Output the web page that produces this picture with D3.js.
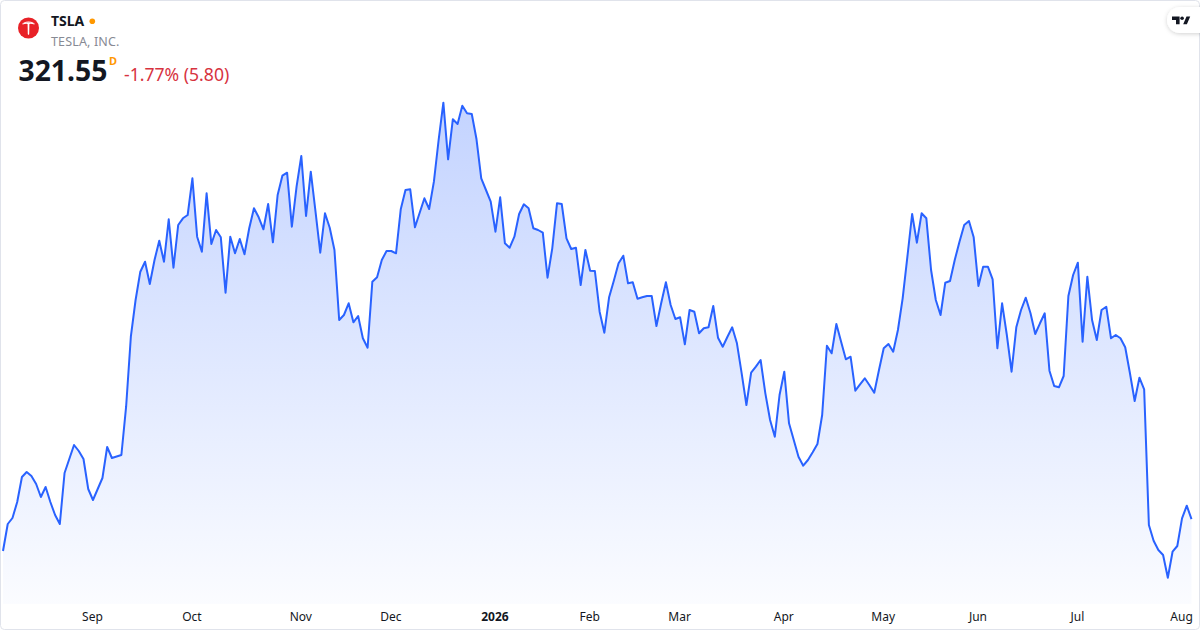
<!DOCTYPE html>
<html>
<head>
<meta charset="UTF-8">
<title>TSLA</title>
<script src="https://cdn.jsdelivr.net/npm/d3@7"></script>
<style>
  html, body { margin: 0; padding: 0; background: #fff; }
  svg { display: block; font-family: "Noto Sans", "Open Sans", sans-serif; }
</style>
</head>
<body>
<div id="chart"></div>
<script>
// daily closes, one per trading day (Aug 2025 -> Aug 2026)
var closes = [
  308.80, 319.60, 322.00, 328.40, 338.40, 340.40, 338.80, 335.60, 330.40, 334.40,
  328.40, 323.20, 319.60, 340.00, 345.60, 351.20, 348.80, 345.60, 333.60, 329.20,
  333.60, 338.00, 350.40, 346.00, 346.60, 347.20, 366.52, 394.52, 409.20, 420.52,
  424.52, 415.60, 425.20, 432.92, 424.52, 441.48, 422.12, 439.20, 441.88, 443.20,
  457.88, 434.52, 428.52, 451.88, 431.60, 437.20, 434.28, 412.12, 434.52, 427.88,
  433.60, 427.48, 437.88, 445.88, 442.28, 437.48, 447.60, 432.28, 451.20, 458.92,
  460.12, 438.52, 454.52, 466.80, 442.80, 460.52, 444.52, 428.12, 443.88, 438.12,
  429.20, 401.20, 403.20, 407.88, 400.28, 402.80, 393.88, 390.12, 416.52, 418.28,
  425.20, 428.80, 428.80, 427.88, 445.48, 453.20, 453.48, 438.28, 444.12, 449.88,
  445.60, 456.52, 473.20, 488.12, 465.48, 481.48, 479.60, 486.92, 483.88, 483.60,
  473.48, 457.88, 453.20, 448.52, 436.52, 450.28, 431.88, 430.12, 434.52, 443.60,
  447.48, 445.88, 437.88, 437.20, 436.12, 418.12, 429.88, 447.88, 447.60, 433.88,
  429.60, 430.12, 415.20, 429.20, 420.92, 420.80, 404.52, 396.12, 410.28, 416.92,
  423.88, 426.92, 415.88, 416.28, 409.72, 410.28, 410.80, 410.80, 398.80, 407.88,
  416.28, 407.20, 401.60, 402.28, 391.48, 405.20, 404.52, 395.88, 397.88, 398.28,
  406.80, 394.12, 390.52, 394.52, 398.28, 391.88, 379.88, 367.20, 380.12, 382.52,
  385.20, 371.88, 361.20, 354.52, 371.20, 380.52, 359.88, 353.20, 346.52, 342.92,
  345.20, 348.28, 351.60, 363.20, 390.92, 387.88, 399.60, 392.52, 385.48, 386.52,
  372.92, 375.48, 377.88, 375.08, 372.12, 381.20, 389.88, 391.60, 388.52, 397.20,
  409.88, 426.52, 443.60, 432.12, 443.88, 441.88, 421.20, 409.20, 403.20, 416.12,
  416.80, 425.20, 432.52, 439.20, 440.80, 434.28, 414.80, 422.52, 422.52, 417.48,
  389.88, 407.88, 395.20, 380.52, 398.28, 405.20, 410.12, 403.88, 395.60, 399.88,
  403.88, 380.92, 374.80, 374.28, 378.80, 410.80, 419.20, 424.12, 392.52, 418.52,
  401.20, 393.20, 405.20, 406.52, 393.88, 395.20, 393.88, 390.28, 379.88, 368.80,
  378.12, 373.48, 319.20, 312.92, 309.20, 307.20, 298.12, 308.52, 310.80, 321.88,
  326.92, 321.55
];

// first trading day of each month (index into closes) and its label
var monthStart = [19, 40, 63, 82, 104, 124, 143, 165, 186, 206, 227, 249];
var monthLabels = ["Sep", "Oct", "Nov", "Dec", "2026", "Feb", "Mar", "Apr", "May", "Jun", "Jul", "Aug"];

var W = 1200, H = 630;

var svg = d3.select("#chart").append("svg")
    .attr("width", W)
    .attr("height", H);

var defs = svg.append("defs");
var grad = defs.append("linearGradient")
    .attr("id", "areaFill")
    .attr("gradientUnits", "userSpaceOnUse")
    .attr("x1", 0).attr("y1", 100)
    .attr("x2", 0).attr("y2", 604);
grad.append("stop").attr("offset", 0).attr("stop-color", "#2962ff").attr("stop-opacity", 0.28);
grad.append("stop").attr("offset", 1).attr("stop-color", "#2962ff").attr("stop-opacity", 0.02);

var shadow = defs.append("filter").attr("id", "pillShadow")
    .attr("x", "-50%").attr("y", "-50%").attr("width", "200%").attr("height", "200%");
shadow.append("feDropShadow")
    .attr("dx", 0).attr("dy", 1).attr("stdDeviation", 2)
    .attr("flood-color", "#000").attr("flood-opacity", 0.18);

// outer frame
svg.append("rect")
    .attr("x", 0.5).attr("y", 0.5)
    .attr("width", W - 1).attr("height", H - 1)
    .attr("rx", 4)
    .attr("fill", "#fff")
    .attr("stroke", "#e0e3eb");

var x = d3.scaleLinear()
    .domain([0, closes.length - 1])
    .range([3, 1191.5]);

var y = d3.scaleLinear()
    .domain([290, 490])
    .range([598, 98]);

var area = d3.area()
    .x(function (d, i) { return x(i); })
    .y0(604)
    .y1(function (d) { return y(d); });

var line = d3.line()
    .x(function (d, i) { return x(i); })
    .y(function (d) { return y(d); });

svg.append("path")
    .datum(closes)
    .attr("d", area)
    .attr("fill", "url(#areaFill)");

svg.append("path")
    .datum(closes)
    .attr("d", line)
    .attr("fill", "none")
    .attr("stroke", "#2962ff")
    .attr("stroke-width", 2)
    .attr("stroke-linejoin", "round");

// time axis
var axis = d3.axisBottom(x)
    .tickValues(monthStart)
    .tickSize(0)
    .tickPadding(0)
    .tickFormat(function (d, i) { return monthLabels[i]; });

var gx = svg.append("g")
    .attr("transform", "translate(-1,612)")
    .call(axis);
gx.select(".domain").remove();
gx.selectAll("text")
    .attr("fill", "#131722")
    .attr("font-size", 12)
    .attr("font-family", "\"Noto Sans\", sans-serif")
    .attr("font-weight", function (d, i) { return monthLabels[i] === "2026" ? 700 : 400; });

// header: logo + symbol
var head = svg.append("g");
head.append("circle")
    .attr("cx", 28.5).attr("cy", 28).attr("r", 10.5)
    .attr("fill", "#e82127");
head.append("path")
    .attr("d", "M22.3 23.6 Q28.5 21.3 34.7 23.6 L34.4 24.6 Q31.8 23.6 29.4 23.9 L29.2 34.3 L28.5 35 L27.8 34.3 L27.6 23.9 Q25.2 23.6 22.6 24.6 Z M23.6 22.4 Q28.5 20.6 33.4 22.4 L33.2 22.9 Q28.5 21.4 23.8 22.9 Z")
    .attr("fill", "#fff");

head.append("text")
    .attr("x", 51).attr("y", 26)
    .attr("font-size", 14).attr("font-weight", 700)
    .attr("fill", "#131722")
    .text("TSLA");
head.append("circle")
    .attr("cx", 92.3).attr("cy", 21.2).attr("r", 2.8)
    .attr("fill", "#ff9800");
head.append("text")
    .attr("x", 51).attr("y", 45.5)
    .attr("font-size", 12.5)
    .attr("letter-spacing", 0.15)
    .attr("fill", "#878a94")
    .text("TESLA, INC.");

head.append("text")
    .attr("x", 18.5).attr("y", 81)
    .attr("font-size", 28.3).attr("font-weight", 700)
    .attr("fill", "#131722")
    .text("321.55");
head.append("text")
    .attr("x", 109).attr("y", 65)
    .attr("font-size", 11).attr("font-weight", 700)
    .attr("fill", "#ff9800")
    .text("D");
head.append("text")
    .attr("x", 124).attr("y", 80.5)
    .attr("font-size", 17.6)
    .attr("fill", "#d7333f")
    .text("-1.77% (5.80)");

// tradingview badge
var badge = svg.append("g");
badge.append("rect")
    .attr("x", 1167).attr("y", 7)
    .attr("width", 46).attr("height", 26)
    .attr("rx", 13)
    .attr("fill", "#fff")
    .attr("filter", "url(#pillShadow)");
badge.append("path")
    .attr("d", "M1172 16.4h7.6v7.8h-3.6v-4.3h-4z M1183.2 24.2l3.3-7.8h3.7l-3.3 7.8z")
    .attr("fill", "#131722");
badge.append("circle")
    .attr("cx", 1182.1).attr("cy", 18.2).attr("r", 1.8)
    .attr("fill", "#131722");
</script>
</body>
</html>
